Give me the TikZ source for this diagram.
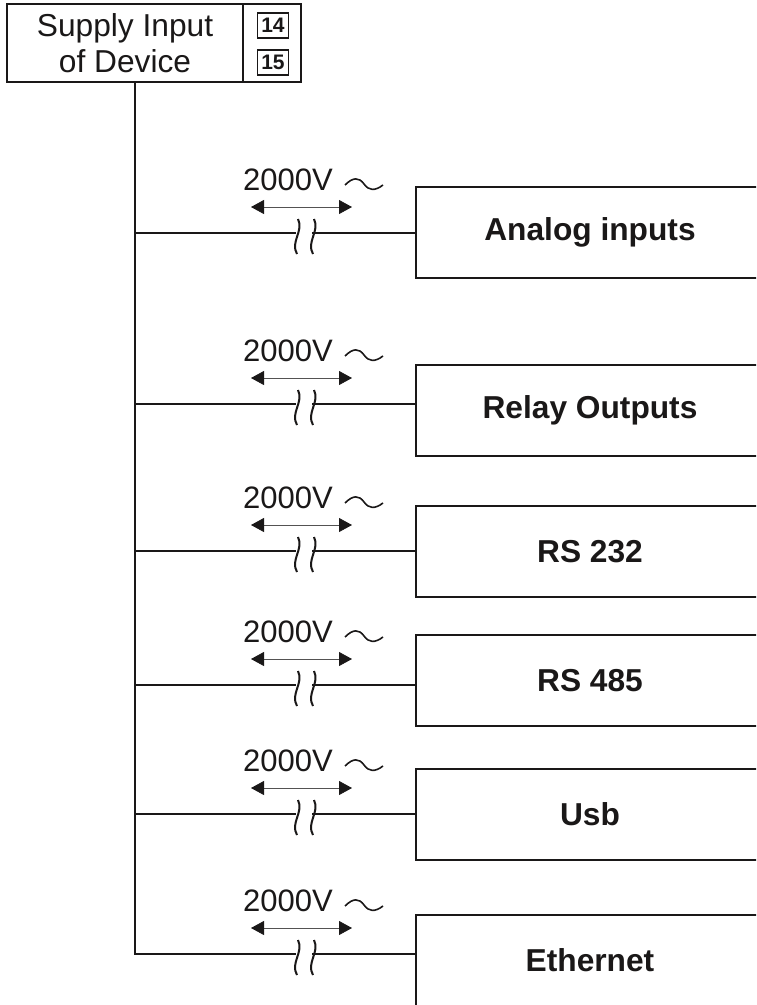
\documentclass[tikz,border=0pt]{standalone}
\usepackage{fontspec}
\setmainfont{Liberation Sans}
\usetikzlibrary{positioning,arrows.meta}
\definecolor{ink}{HTML}{1A1818}

\begin{document}
\begin{tikzpicture}[
				x=1pt, y=1pt,
				wire/.style={draw=ink, line width=2.2pt},
				block/.style={rectangle, draw=ink, line width=2.2pt, outer sep=0pt, minimum width=348pt, minimum height=91pt, text=ink, font=\fontsize{31.7}{36}\selectfont\bfseries},
				supplybox/.style={rectangle, draw=ink, line width=2.2pt, outer sep=0pt, minimum height=78pt, text=ink, align=center, font=\fontsize{31.7}{36}\selectfont},
				termno/.style={rectangle, draw=ink, line width=1.3pt, inner sep=0pt, minimum width=31pt, minimum height=25pt, text=ink, font=\fontsize{21}{24}\selectfont\bfseries},
				span/.style={draw=ink!75, line width=0.8pt, {Triangle[length=13pt,width=14pt,color=ink,fill=ink]}-{Triangle[length=13pt,width=14pt,color=ink,fill=ink]}},
				volt/.style={inner sep=0pt, xshift=-16pt, text=ink, font=\fontsize{31}{36}\selectfont,
					append after command={\pgfextra{\draw[draw=ink, line width=1.6pt, shift={(\tikzlastnode.south east)}] (12,6) .. controls (20,14) and (26,14) .. (31,7) .. controls (36,0) and (42,0) .. (50,6);}}},
				gap/.style={inner sep=0pt, outer sep=0pt, minimum width=16pt, minimum height=36pt,
					append after command={\pgfextra{\draw[draw=ink, line width=2pt, shift={(\tikzlastnode.west)}] (2,14) .. controls (8,2) and (-6,-9) .. (1,-21) (18,14) .. controls (24,2) and (10,-9) .. (17,-21);}}}
			]
			\path[use as bounding box, clip] (0,0) rectangle (756,-1005);
			\fill[white] (0,0) rectangle (756,-1005);
			% top box
			\node[supplybox, minimum width=236pt] (supply) at (125,-43) {Supply Input\\of Device};
			\node[supplybox, minimum width=58pt] (terms) [right=0pt of supply] {};
			\node[termno] (termfourteen) at ([xshift=1pt,yshift=17.5pt]terms.center) {14};
			\node[termno] (termfifteen) at ([xshift=1pt,yshift=-19.5pt]terms.center) {15};
			\coordinate (supplyout) at ([xshift=10pt]supply.south);
			% right side blocks
			\node[block] (analog) at (590,-232.5) {Analog inputs};
			\node[block] (relay) [below=87pt of analog] {Relay Outputs};
			\node[block] (rstwo) [below=50pt of relay] {RS 232};
			\node[block] (rsfour) [below=38pt of rstwo] {RS 485};
			\node[block] (usb) [below=43pt of rsfour] {Usb};
			\node[block] (ethernet) [below=55pt of usb] {Ethernet};
			% isolation gaps
			\node[gap] (gapanalog) at (304,-233) {};
			\node[gap] (gaprelay) at (304,-404) {};
			\node[gap] (gaprstwo) at (304,-551) {};
			\node[gap] (gaprsfour) at (304,-685) {};
			\node[gap] (gapusb) at (304,-814) {};
			\node[gap] (gapethernet) at (304,-954) {};
			% voltage labels
			\node[volt] (voltanalog) [above=42pt of gapanalog.center] {2000V};
			\node[volt] (voltrelay) [above=42pt of gaprelay.center] {2000V};
			\node[volt] (voltrstwo) [above=42pt of gaprstwo.center] {2000V};
			\node[volt] (voltrsfour) [above=42pt of gaprsfour.center] {2000V};
			\node[volt] (voltusb) [above=42pt of gapusb.center] {2000V};
			\node[volt] (voltethernet) [above=42pt of gapethernet.center] {2000V};
			% wires
			\draw[wire] (supplyout) |- (gapethernet.west);
			\draw[wire] (supplyout |- gapanalog) -- (gapanalog.west);
			\draw[wire] (supplyout |- gaprelay) -- (gaprelay.west);
			\draw[wire] (supplyout |- gaprstwo) -- (gaprstwo.west);
			\draw[wire] (supplyout |- gaprsfour) -- (gaprsfour.west);
			\draw[wire] (supplyout |- gapusb) -- (gapusb.west);
			\draw[wire] (gapanalog.east) -- (gapanalog.east -| analog.west);
			\draw[wire] (gaprelay.east) -- (gaprelay.east -| relay.west);
			\draw[wire] (gaprstwo.east) -- (gaprstwo.east -| rstwo.west);
			\draw[wire] (gaprsfour.east) -- (gaprsfour.east -| rsfour.west);
			\draw[wire] (gapusb.east) -- (gapusb.east -| usb.west);
			\draw[wire] (gapethernet.east) -- (gapethernet.east -| ethernet.west);
			% width arrows
			\draw[span] ([xshift=-53pt,yshift=26pt]gapanalog.center) -- ([xshift=48pt,yshift=26pt]gapanalog.center);
			\draw[span] ([xshift=-53pt,yshift=26pt]gaprelay.center) -- ([xshift=48pt,yshift=26pt]gaprelay.center);
			\draw[span] ([xshift=-53pt,yshift=26pt]gaprstwo.center) -- ([xshift=48pt,yshift=26pt]gaprstwo.center);
			\draw[span] ([xshift=-53pt,yshift=26pt]gaprsfour.center) -- ([xshift=48pt,yshift=26pt]gaprsfour.center);
			\draw[span] ([xshift=-53pt,yshift=26pt]gapusb.center) -- ([xshift=48pt,yshift=26pt]gapusb.center);
			\draw[span] ([xshift=-53pt,yshift=26pt]gapethernet.center) -- ([xshift=48pt,yshift=26pt]gapethernet.center);
			\end{tikzpicture}
\end{document}
